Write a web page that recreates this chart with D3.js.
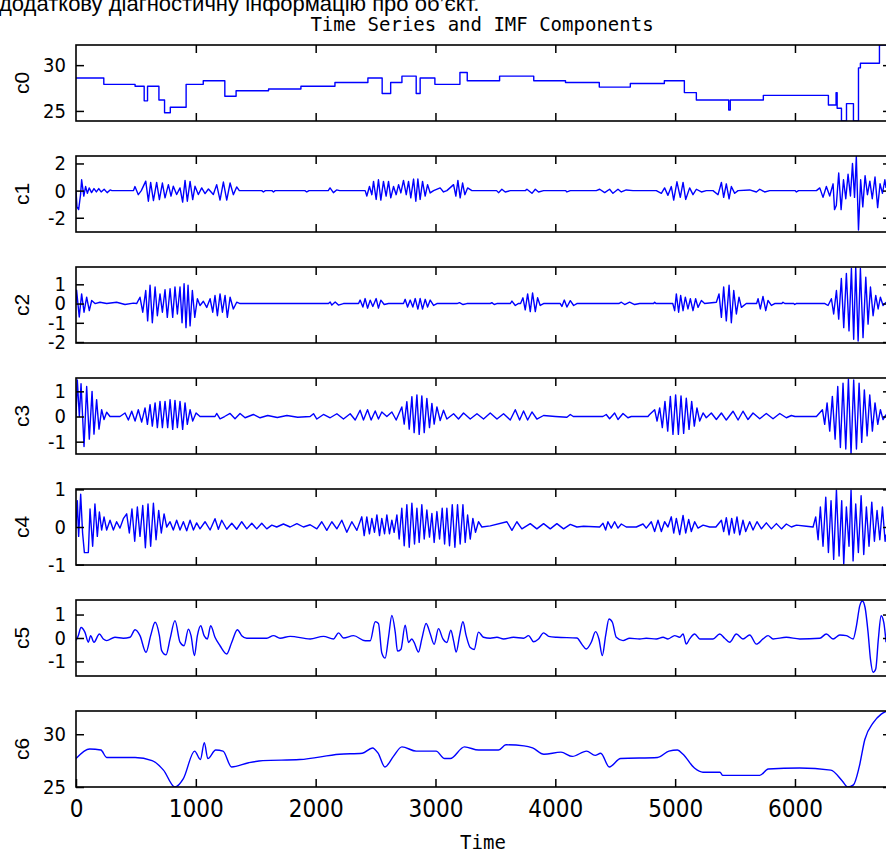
<!DOCTYPE html>
<html>
<head>
<meta charset="utf-8">
<script src="https://cdn.jsdelivr.net/npm/d3@7"></script>
<style>
  body { margin: 0; background: #fff; }
  svg { display: block; }
  .tick line { stroke: #000; stroke-width: 1.5; }
  .tick text { font-family: "Liberation Sans Narrow", "DejaVu Sans Condensed", sans-serif; fill: #000; }
</style>
</head>
<body>
<div id="chart"></div>
<script>
// panel names, axis ticks and ranges
const seriesNames = ['c0', 'c1', 'c2', 'c3', 'c4', 'c5', 'c6'];
const timeTicks = [0, 1000, 2000, 3000, 4000, 5000, 6000];
const timeEnd = 6768;
const yDomains = [[23.9, 32.2], [-3.05, 2.55], [-2.05, 1.9], [-1.49, 1.53], [-1.01, 1.01], [-1.62, 1.62], [25, 32.2]];
const yTickValues = [[25, 30], [-2, 0, 2], [-2, -1, 0, 1], [-1, 0, 1], [-1, 0, 1], [-1, 0, 1], [25, 30]];

// c0: step levels [start time, value]
const c0 = [[0,28.6],[232,27.9],[493,27.7],[569,26.1],[597,27.7],[692,26.2],[739,24.8],[787,25.4],[919,27.9],[1062,28.3],
  [1242,26.6],[1336,27.2],[1607,27.4],[1877,27.7],[2161,28.1],[2436,28.6],[2555,26.9],[2626,28.1],[2720,28.8],[2839,26.9],
  [2872,28.6],[2995,27.9],[3204,29.2],[3265,28.3],[3535,28.8],[3820,28.3],[4085,28.1],[4367,27.6],[4626,28.0],[4910,28.3],
  [5077,27.0],[5177,26.2],[5447,25.1],[5460,26.2],[5736,26.7],[6279,25.65],[6343,27.0],[6352,25.3],[6388,23.9],[6430,25.8],
  [6488,23.9],[6530,29.7],[6546,30.2],[6705,32.2],[6768,32.2]];

const c1 = [[0,0],[8,-1.2],[22,-1.4],[38,-0.3],[47,0.8],[65,-0.4],[80,0.3],[95,-0.2],[110,0.2],[130,-0.15],[150,0.15],[170,-0.1],
  [190,0.15],[210,-0.1],[235,0.1],[260,-0.15],[285,0.05],[300,0],[480,0],[492,0.3],[520,-0.3],[545,0],
  [582,0.7],[604,-0.78],[623,0.6],[646,-0.73],[673,0.6],[696,-0.66],[721,0.56],[743,-0.53],[771,0.44],[793,-0.41],[812,0.32],
  [840,-0.29],[868,0.2],[890,-0.85],[910,0.75],[929,-0.78],[952,0.68],[974,-0.66],[993,0.32],[1021,-0.29],[1049,0.2],[1077,-0.22],
  [1105,0.12],[1146,-0.29],[1174,0.44],[1202,-0.7],[1230,0.63],[1258,-0.7],[1286,0.56],[1313,-0.3],[1341,0.27],[1363,0],
  [1550,0],[1564,-0.1],[1580,0],[1635,0],[1648,-0.1],[1662,0],[1910,0],[1926,-0.1],[1945,0],[2105,0],[2120,0.2],[2148,-0.15],
  [2175,0.05],[2200,0],[2413,0],[2427,-0.4],[2449,0.3],[2469,-0.3],[2483,0.68],[2505,-0.65],[2524,0.8],[2544,-0.7],[2566,0.68],
  [2588,-0.4],[2608,0.68],[2627,-0.53],[2650,0.3],[2672,-0.3],[2692,0.44],[2711,-0.17],[2733,0.75],[2756,-0.3],[2775,0.68],
  [2794,-0.53],[2817,0.85],[2836,-0.78],[2853,0.85],[2872,-0.65],[2892,0.68],[2914,-0.4],[2934,0.44],[2956,-0.17],[2984,0],
  [3039,0.2],[3067,-0.1],[3095,0],[3151,0.44],[3170,-0.4],[3187,0.75],[3206,-0.53],[3226,0.56],[3245,-0.3],[3268,0.2],[3304,0],
  [3510,0],[3526,-0.15],[3554,0.1],[3582,-0.1],[3624,0],[3750,0],[3763,0.1],[3805,-0.2],[3833,0.1],[3860,-0.1],[3902,0],
  [4085,0],[4097,-0.1],[4125,0],[4342,0],[4370,0.1],[4412,-0.15],[4453,0.1],[4481,-0.2],[4523,0.1],[4551,-0.1],[4592,0.05],
  [4648,0],[4843,0],[4885,-0.2],[4912,0.2],[4940,-0.35],[4968,0.3],[4988,-0.7],[5015,0.65],[5043,-0.5],[5066,0.6],[5088,-0.65],
  [5121,0.2],[5149,-0.3],[5177,0.1],[5219,-0.1],[5260,0],[5316,0],[5358,-0.3],[5386,0.6],[5405,-0.5],[5427,0.5],[5450,-0.6],
  [5469,0.3],[5497,-0.2],[5525,0],[5622,0.05],[5678,-0.1],[5706,0.1],[5747,-0.1],[5789,0],[6000,0],[6012,-0.1],[6030,0],
  [6179,0],[6207,0.2],[6234,-0.5],[6262,0.3],[6290,-0.4],[6318,0.5],[6330,-1.4],[6345,-1.1],[6365,1.3],[6385,-1.4],[6405,0.8],
  [6424,-0.6],[6443,1.2],[6463,-0.4],[6480,2.0],[6497,-0.5],[6512,2.5],[6530,-2.9],[6548,0.8],[6566,-1.2],[6585,1.1],[6605,-0.3],
  [6625,0.7],[6645,-0.6],[6668,1.0],[6690,-1.25],[6710,0.5],[6730,-0.2],[6750,0.8],[6760,0.2]];

const c2 = [[0,0],[5,0.7],[27,-0.7],[47,0.5],[67,-0.45],[89,0.33],[111,-0.37],[131,0.16],[159,0],[200,0.07],[256,0],[339,0.07],
  [409,-0.05],[479,0.02],[506,0],[534,0.33],[557,-0.45],[582,0.68],[598,-0.9],[618,0.95],[637,-1.0],[660,0.86],[679,-0.63],
  [701,0.5],[721,-0.45],[743,0.72],[762,-0.72],[785,0.77],[807,-0.72],[826,0.86],[846,-0.54],[868,0.86],[885,-1.0],[902,1.03],
  [918,-1.25],[935,0.95],[952,-1.16],[971,0.68],[991,-0.72],[1013,0.25],[1035,-0.1],[1063,0.12],[1091,-0.2],[1119,0.25],
  [1141,-0.45],[1160,0.42],[1180,-0.63],[1202,0.5],[1222,-0.45],[1244,0.42],[1263,-0.72],[1286,0.33],[1313,-0.28],[1341,0.07],
  [1369,0],[2107,0],[2121,0.08],[2135,-0.08],[2163,0.08],[2190,-0.08],[2232,0],[2358,0],[2371,0.18],[2394,-0.18],[2413,0.26],
  [2433,-0.24],[2455,0.18],[2477,-0.15],[2505,0.26],[2524,-0.24],[2544,0.18],[2572,-0.05],[2608,0],[2733,0],[2747,0.22],
  [2767,-0.18],[2789,0.18],[2811,-0.18],[2831,0.26],[2853,-0.29],[2872,0.26],[2892,-0.29],[2914,0.22],[2934,-0.18],[2956,0.18],
  [2984,-0.1],[3012,0],[3180,0],[3200,0.05],[3230,-0.05],[3262,0],[3457,0],[3470,0.05],[3490,-0.05],[3512,0],[3624,0],
  [3638,0.13],[3666,-0.1],[3690,0],[3710,0],[3730,0.3],[3749,-0.33],[3769,0.5],[3791,-0.42],[3810,0.55],[3833,-0.42],[3852,0.3],
  [3874,-0.1],[3902,0],[4041,0],[4055,-0.15],[4075,0.18],[4097,-0.18],[4125,0.15],[4153,-0.1],[4180,0],[4530,0],[4551,0.07],
  [4579,-0.05],[4620,0.07],[4662,-0.05],[4704,0],[4820,0],[4829,0.07],[4840,0],[4980,0],[4996,-0.37],[5010,0.5],[5029,-0.45],
  [5046,0.42],[5066,-0.37],[5085,0.33],[5107,-0.28],[5127,0.25],[5149,-0.37],[5171,0.25],[5191,-0.2],[5219,0.16],[5246,0],
  [5344,0.07],[5366,0.5],[5386,-0.72],[5405,0.86],[5427,-0.9],[5450,0.95],[5469,-1.0],[5489,0.68],[5511,-0.54],[5533,0.33],
  [5553,-0.2],[5594,0],[5680,0],[5692,0.25],[5711,-0.28],[5733,0.37],[5756,-0.37],[5775,0.16],[5803,-0.1],[5831,0],[5890,0],
  [5900,0.07],[5915,0],[5990,0],[5998,-0.05],[6010,0],[6250,0],[6276,-0.1],[6304,0.25],[6323,-0.54],[6346,0.68],[6365,-0.81],
  [6387,1.3],[6407,-1.25],[6429,1.56],[6451,-1.42],[6471,1.82],[6490,-1.86],[6507,1.88],[6527,-1.95],[6546,1.82],[6568,-1.77],
  [6591,1.37],[6610,-1.07],[6630,0.86],[6652,-0.63],[6674,0.42],[6694,-0.28],[6713,0.33],[6735,-0.1],[6760,0.07]];

const c3 = [[0,0],[11,1.45],[28,0],[42,1.3],[67,-1.19],[89,1.19],[111,-0.9],[134,1.0],[150,-0.7],[172,0.67],[192,-0.5],[214,0.27],
  [234,-0.12],[256,0.17],[284,0],[367,0],[409,0.14],[437,-0.14],[465,0.21],[493,-0.18],[520,0.27],[548,-0.22],[576,0.34],
  [596,-0.31],[618,0.47],[637,-0.38],[660,0.54],[679,-0.44],[701,0.6],[721,-0.44],[743,0.6],[765,-0.44],[785,0.67],[807,-0.51],
  [826,0.64],[846,-0.44],[868,0.6],[890,-0.51],[910,0.54],[929,-0.31],[952,0.27],[974,-0.18],[1002,0.14],[1035,0],[1160,0],
  [1174,0.12],[1202,-0.09],[1240,0],[1286,0.12],[1327,-0.09],[1369,0.12],[1411,-0.05],[1480,0.08],[1536,-0.05],[1600,0.04],
  [1680,-0.04],[1760,0.04],[1850,-0.03],[1954,0],[1982,0.11],[2010,-0.1],[2065,0.08],[2121,-0.05],[2177,0.11],[2232,-0.1],
  [2288,0.11],[2330,-0.14],[2371,0.25],[2399,-0.14],[2433,0.27],[2463,-0.14],[2497,0.22],[2524,-0.1],[2552,0.18],[2594,0],
  [2636,0.18],[2672,-0.14],[2719,0.38],[2739,-0.3],[2761,0.59],[2781,-0.5],[2803,0.79],[2822,-0.64],[2845,0.86],[2864,-0.71],
  [2886,0.82],[2906,-0.64],[2928,0.72],[2950,-0.44],[2970,0.52],[2989,-0.3],[3012,0.38],[3039,-0.16],[3067,0.25],[3095,-0.1],
  [3151,0.11],[3192,-0.1],[3234,0.14],[3290,-0.1],[3346,0.11],[3401,-0.1],[3457,0.14],[3513,-0.1],[3568,0.11],[3624,-0.14],
  [3666,0.27],[3702,-0.14],[3735,0.22],[3769,-0.14],[3805,0.18],[3846,-0.1],[3902,0.04],[4000,0],[4097,-0.03],[4125,0.08],
  [4150,0],[4397,0],[4425,0.08],[4453,-0.09],[4495,0.14],[4523,-0.12],[4565,0.12],[4606,-0.05],[4634,0],[4773,0],[4787,0.08],
  [4829,0.27],[4849,-0.18],[4871,0.34],[4893,-0.44],[4915,0.6],[4938,-0.58],[4960,0.8],[4982,-0.71],[5004,0.86],[5027,-0.71],
  [5049,0.82],[5071,-0.67],[5093,0.73],[5116,-0.51],[5138,0.6],[5160,-0.38],[5182,0.34],[5205,-0.18],[5233,0.14],[5260,-0.05],
  [5302,0.14],[5344,-0.12],[5386,0.14],[5427,-0.14],[5483,0.21],[5525,-0.14],[5566,0.21],[5608,-0.12],[5650,0.14],[5706,-0.09],
  [5761,0.12],[5817,-0.09],[5873,0.12],[5928,-0.05],[5970,0.04],[6000,0],[6179,0],[6229,0.27],[6248,-0.31],[6268,0.54],
  [6290,-0.58],[6312,0.8],[6335,-0.9],[6357,1.19],[6379,-1.23],[6401,1.32],[6424,-1.29],[6446,1.48],[6468,-1.49],[6490,1.45],
  [6513,-1.29],[6535,1.32],[6557,-1.03],[6579,1.06],[6602,-0.77],[6624,0.86],[6646,-0.58],[6668,0.54],[6691,-0.31],[6713,0.27],
  [6735,-0.12],[6760,0.08]];

const c4 = [[0,0],[11,0.7],[22,-0.25],[39,0.87],[55,-0.16],[70,-0.68],[103,-0.68],[117,0.48],[139,-0.51],[158,0.61],[178,-0.25],
  [195,0.4],[214,-0.08],[234,0.27],[256,-0.08],[284,0.18],[312,-0.08],[339,0.14],[367,-0.03],[395,0.22],[423,0.35],[445,-0.16],
  [467,0.48],[490,-0.38],[512,0.53],[534,-0.25],[557,0.57],[579,-0.55],[601,0.61],[623,-0.51],[646,0.63],[668,-0.34],[690,0.44],
  [712,-0.16],[735,0.35],[757,0],[785,0.14],[812,-0.08],[840,0.18],[868,-0.08],[896,0.14],[924,-0.1],[952,0.18],[980,-0.08],
  [1007,0.11],[1035,-0.05],[1077,0.14],[1119,-0.08],[1160,0.22],[1188,-0.06],[1216,0.18],[1258,-0.06],[1300,0.1],[1341,-0.06],
  [1383,0.14],[1425,-0.05],[1467,0.1],[1508,-0.05],[1550,0.1],[1592,-0.05],[1634,0.05],[1675,0],[1731,0.08],[1787,0],
  [1843,0.09],[1898,0],[1954,0.06],[2010,-0.05],[2051,0.14],[2093,-0.09],[2135,0.14],[2177,-0.05],[2218,0.18],[2260,-0.14],
  [2302,0.14],[2344,-0.09],[2385,0.27],[2405,-0.23],[2427,0.27],[2449,-0.18],[2469,0.23],[2491,-0.14],[2511,0.32],[2533,-0.23],
  [2552,0.23],[2575,-0.18],[2594,0.32],[2616,-0.18],[2636,0.18],[2655,-0.14],[2678,0.32],[2697,-0.32],[2719,0.5],[2739,-0.5],
  [2761,0.59],[2781,-0.54],[2803,0.63],[2825,-0.45],[2845,0.5],[2864,-0.41],[2886,0.59],[2906,-0.32],[2928,0.45],[2950,-0.27],
  [2970,0.36],[2989,-0.41],[3012,0.41],[3034,-0.32],[3056,0.5],[3076,-0.45],[3095,0.5],[3117,-0.5],[3140,0.59],[3162,-0.54],
  [3184,0.59],[3206,-0.45],[3229,0.59],[3248,-0.41],[3268,0.32],[3290,-0.32],[3312,0.23],[3334,-0.14],[3359,0.14],[3387,0],
  [3457,0.03],[3596,0.14],[3638,-0.09],[3679,0.14],[3721,-0.05],[3791,0.09],[3846,-0.05],[3902,0.09],[3958,-0.05],[4013,0.09],
  [4069,-0.05],[4125,0.07],[4180,0],[4236,0.02],[4370,0],[4398,0.1],[4420,-0.08],[4439,0.14],[4467,-0.03],[4495,0.14],
  [4523,-0.03],[4551,0.08],[4592,0],[4676,0],[4732,0.08],[4759,-0.03],[4801,0.14],[4829,-0.12],[4857,0.18],[4885,-0.12],
  [4912,0.14],[4940,0],[4968,0.27],[4988,-0.16],[5010,0.23],[5038,-0.2],[5066,0.31],[5088,-0.16],[5113,0.2],[5135,-0.12],
  [5163,0.14],[5191,-0.03],[5233,0.05],[5288,0],[5340,0],[5386,0.18],[5405,-0.12],[5427,0.25],[5450,-0.21],[5472,0.23],
  [5494,-0.16],[5516,0.27],[5539,-0.21],[5566,0.18],[5589,-0.12],[5622,0.14],[5650,-0.08],[5683,0.14],[5720,-0.05],[5761,0.11],
  [5803,-0.05],[5845,0.09],[5887,-0.05],[5928,0.08],[5970,0],[6012,0.05],[6095,0.02],[6151,0],[6173,0.27],[6193,-0.34],
  [6212,0.53],[6234,-0.51],[6257,0.79],[6279,-0.68],[6301,0.7],[6323,-0.86],[6346,0.98],[6368,-0.77],[6390,0.7],[6407,-0.98],
  [6429,0.53],[6451,-0.51],[6468,0.98],[6485,-0.9],[6507,0.61],[6529,-0.68],[6552,0.83],[6574,-0.73],[6596,0.53],[6618,-0.51],
  [6641,0.66],[6663,-0.38],[6685,0.44],[6708,-0.34],[6730,0.53],[6752,-0.38],[6760,-0.2]];

const c5 = [[0,-0.1],[19,0.1],[42,0.45],[75,0.24],[103,-0.18],[122,0.1],[150,-0.18],[195,0.17],[228,-0.04],[256,-0.11],[325,0.03],
  [395,-0.01],[451,0.03],[493,0.35],[534,0.1],[584,-0.61],[623,0.1],[660,0.67],[696,0.1],[715,-0.54],[751,-0.72],[785,-0.04],
  [826,0.74],[868,-0.18],[902,-0.33],[938,0.38],[960,0.1],[988,-0.75],[1013,0.1],[1041,0.52],[1069,0.1],[1096,-0.04],[1124,0.52],
  [1160,0.03],[1202,-0.33],[1258,-0.68],[1300,-0.18],[1347,0.35],[1383,0.1],[1425,-0.01],[1592,-0.01],[1648,0.1],[1703,-0.01],
  [1787,0.07],[1954,-0.04],[2065,0.07],[2149,-0.04],[2191,0.22],[2232,0],[2316,0.1],[2413,-0.12],[2455,-0.12],[2497,0.69],
  [2524,0.62],[2552,-0.64],[2580,-0.86],[2608,0.03],[2636,0.96],[2664,0.25],[2683,-0.56],[2711,-0.49],[2747,0.55],[2775,-0.19],
  [2803,-0.04],[2822,-0.19],[2858,-0.6],[2886,-0.04],[2922,0.62],[2956,0.18],[2989,-0.27],[3025,0.4],[3062,-0.04],[3095,-0.19],
  [3128,0.33],[3151,-0.12],[3173,-0.6],[3201,0.1],[3229,0.69],[3256,0.1],[3290,-0.41],[3323,-0.49],[3359,0.25],[3401,0.03],
  [3457,-0.01],[3513,0.03],[3568,-0.04],[3651,0.03],[3735,-0.01],[3777,0.1],[3818,-0.16],[3860,-0.04],[3902,0.22],[3944,0.07],
  [4013,0.03],[4180,0],[4222,-0.27],[4258,-0.47],[4300,-0.18],[4336,0.27],[4364,-0.04],[4392,-0.75],[4420,0.1],[4448,0.81],
  [4476,0.67],[4509,0.03],[4565,-0.11],[4620,-0.01],[4704,-0.04],[4759,-0.01],[4843,-0.04],[4899,0.03],[4940,-0.04],[4996,0.1],
  [5038,0.03],[5066,0.17],[5093,-0.26],[5121,-0.04],[5163,0.17],[5205,-0.04],[5260,-0.04],[5316,-0.04],[5372,0.17],[5413,-0.01],
  [5455,-0.18],[5511,0.17],[5566,-0.04],[5622,0.13],[5678,-0.26],[5733,-0.04],[5775,0.1],[5817,-0.04],[5928,0.03],[6040,-0.04],
  [6207,-0.01],[6262,0.17],[6318,-0.04],[6374,0.13],[6429,0.1],[6485,-0.04],[6513,0.52],[6541,1.38],[6563,1.58],[6585,1.3],
  [6610,0.24],[6630,-0.9],[6652,-1.46],[6674,-1.32],[6696,-0.04],[6719,0.95],[6741,0.67],[6760,-0.18]];

const c6 = [[0,27.7],[114,28.6],[208,28.5],[256,27.8],[493,27.8],[635,27.5],[730,26.6],[825,25.0],[896,25.8],[990,28.4],
  [1038,27.6],[1071,29.2],[1100,27.7],[1166,28.5],[1227,28.4],[1298,26.9],[1441,27.3],[1559,27.5],[1867,27.6],[2199,28.1],
  [2389,28.2],[2474,28.7],[2521,28.2],[2578,26.9],[2649,27.9],[2720,28.8],[2839,28.4],[3005,28.4],[3076,27.7],[3123,27.7],
  [3242,28.8],[3360,28.5],[3526,28.5],[3588,29.0],[3739,28.9],[3810,28.7],[3905,28.1],[4047,28.3],[4142,27.9],[4261,28.4],
  [4332,28.0],[4379,28.2],[4450,26.9],[4545,27.7],[4853,27.8],[4948,28.4],[5019,28.5],[5066,28.1],[5161,26.8],[5232,26.4],
  [5374,26.4],[5398,26.1],[5706,26.1],[5777,26.7],[6038,26.8],[6299,26.6],[6393,25.6],[6441,25.0],[6488,25.2],[6536,26.9],
  [6583,29.5],[6654,31.1],[6720,31.9],[6768,32.2]];

const series = [c0, c1, c2, c3, c4, c5, c6];

const width = 886, height = 853;
const plotLeft = 76, plotRight = 887;
const panelTop0 = 45, panelStep = 111, panelHeight = 76;

const svg = d3.select('#chart')
              .append('svg')
              .attr('width', width)
              .attr('height', height);

// cut-off line of the surrounding document
svg.append('text')
   .attr('x', -1)
   .attr('y', 11)
   .attr('font-family', 'Liberation Sans, Arial, sans-serif')
   .attr('font-size', 22)
   .text('додаткову діагностичну інформацію про об\u2019єкт.');

svg.append('text')
   .attr('x', 482)
   .attr('y', 31)
   .attr('text-anchor', 'middle')
   .attr('font-family', 'DejaVu Sans Mono, monospace')
   .attr('font-size', 19)
   .text('Time Series and IMF Components');

const x = d3.scaleLinear().domain([0, timeEnd]).range([plotLeft, plotRight]);

series.forEach((data, i) => {
    const top = panelTop0 + i * panelStep;
    const bottom = top + panelHeight;
    const y = d3.scaleLinear().domain(yDomains[i]).range([bottom, top]);
    const g = svg.append('g');

    g.append('clipPath')
     .attr('id', 'clip' + i)
     .append('rect')
     .attr('x', plotLeft).attr('y', top)
     .attr('width', plotRight - plotLeft).attr('height', panelHeight);

    let curve = d3.curveLinear;
    if (i === 0) curve = d3.curveStepAfter;
    if (i === 5 || i === 6) curve = d3.curveMonotoneX;

    const line = d3.line()
                   .x(d => x(d[0]))
                   .y(d => y(d[1]))
                   .curve(curve);

    g.append('path')
     .datum(data)
     .attr('clip-path', 'url(#clip' + i + ')')
     .attr('fill', 'none')
     .attr('stroke', '#0000ff')
     .attr('stroke-width', 1.4)
     .attr('stroke-linejoin', 'round')
     .attr('d', line);

    // inward ticks on all four sides
    const isLast = i === series.length - 1;
    const bottomAxis = g.append('g')
        .attr('transform', `translate(0,${bottom})`)
        .call(d3.axisBottom(x)
                .tickValues(isLast ? timeTicks : timeTicks.slice(1))
                .tickSize(-8)
                .tickPadding(13)
                .tickFormat(isLast ? d3.format('d') : ''));
    bottomAxis.selectAll('text').attr('font-size', 24);

    g.append('g')
     .attr('transform', `translate(0,${top})`)
     .call(d3.axisTop(x).tickValues(timeTicks.slice(1)).tickSize(-8).tickFormat(''));

    const leftAxis = g.append('g')
        .attr('transform', `translate(${plotLeft},0)`)
        .call(d3.axisLeft(y)
                .tickValues(yTickValues[i])
                .tickSize(-8)
                .tickPadding(10)
                .tickFormat(d => String(d)));
    leftAxis.selectAll('text').attr('font-size', 20);

    g.append('g')
     .attr('transform', `translate(${plotRight},0)`)
     .call(d3.axisRight(y).tickValues(yTickValues[i]).tickSize(-4).tickFormat(''));

    g.selectAll('.domain').remove();

    g.append('rect')
     .attr('x', plotLeft).attr('y', top)
     .attr('width', plotRight - plotLeft).attr('height', panelHeight)
     .attr('fill', 'none')
     .attr('stroke', '#000')
     .attr('stroke-width', 1.6);

    g.append('text')
     .attr('transform', `translate(29,${(top + bottom) / 2}) rotate(-90)`)
     .attr('text-anchor', 'middle')
     .attr('font-family', 'Liberation Sans, Arial, sans-serif')
     .attr('font-size', 21)
     .text(seriesNames[i]);
});

svg.append('text')
   .attr('x', 483)
   .attr('y', 849)
   .attr('text-anchor', 'middle')
   .attr('font-family', 'DejaVu Sans Mono, monospace')
   .attr('font-size', 19)
   .text('Time');
</script>
</body>
</html>
